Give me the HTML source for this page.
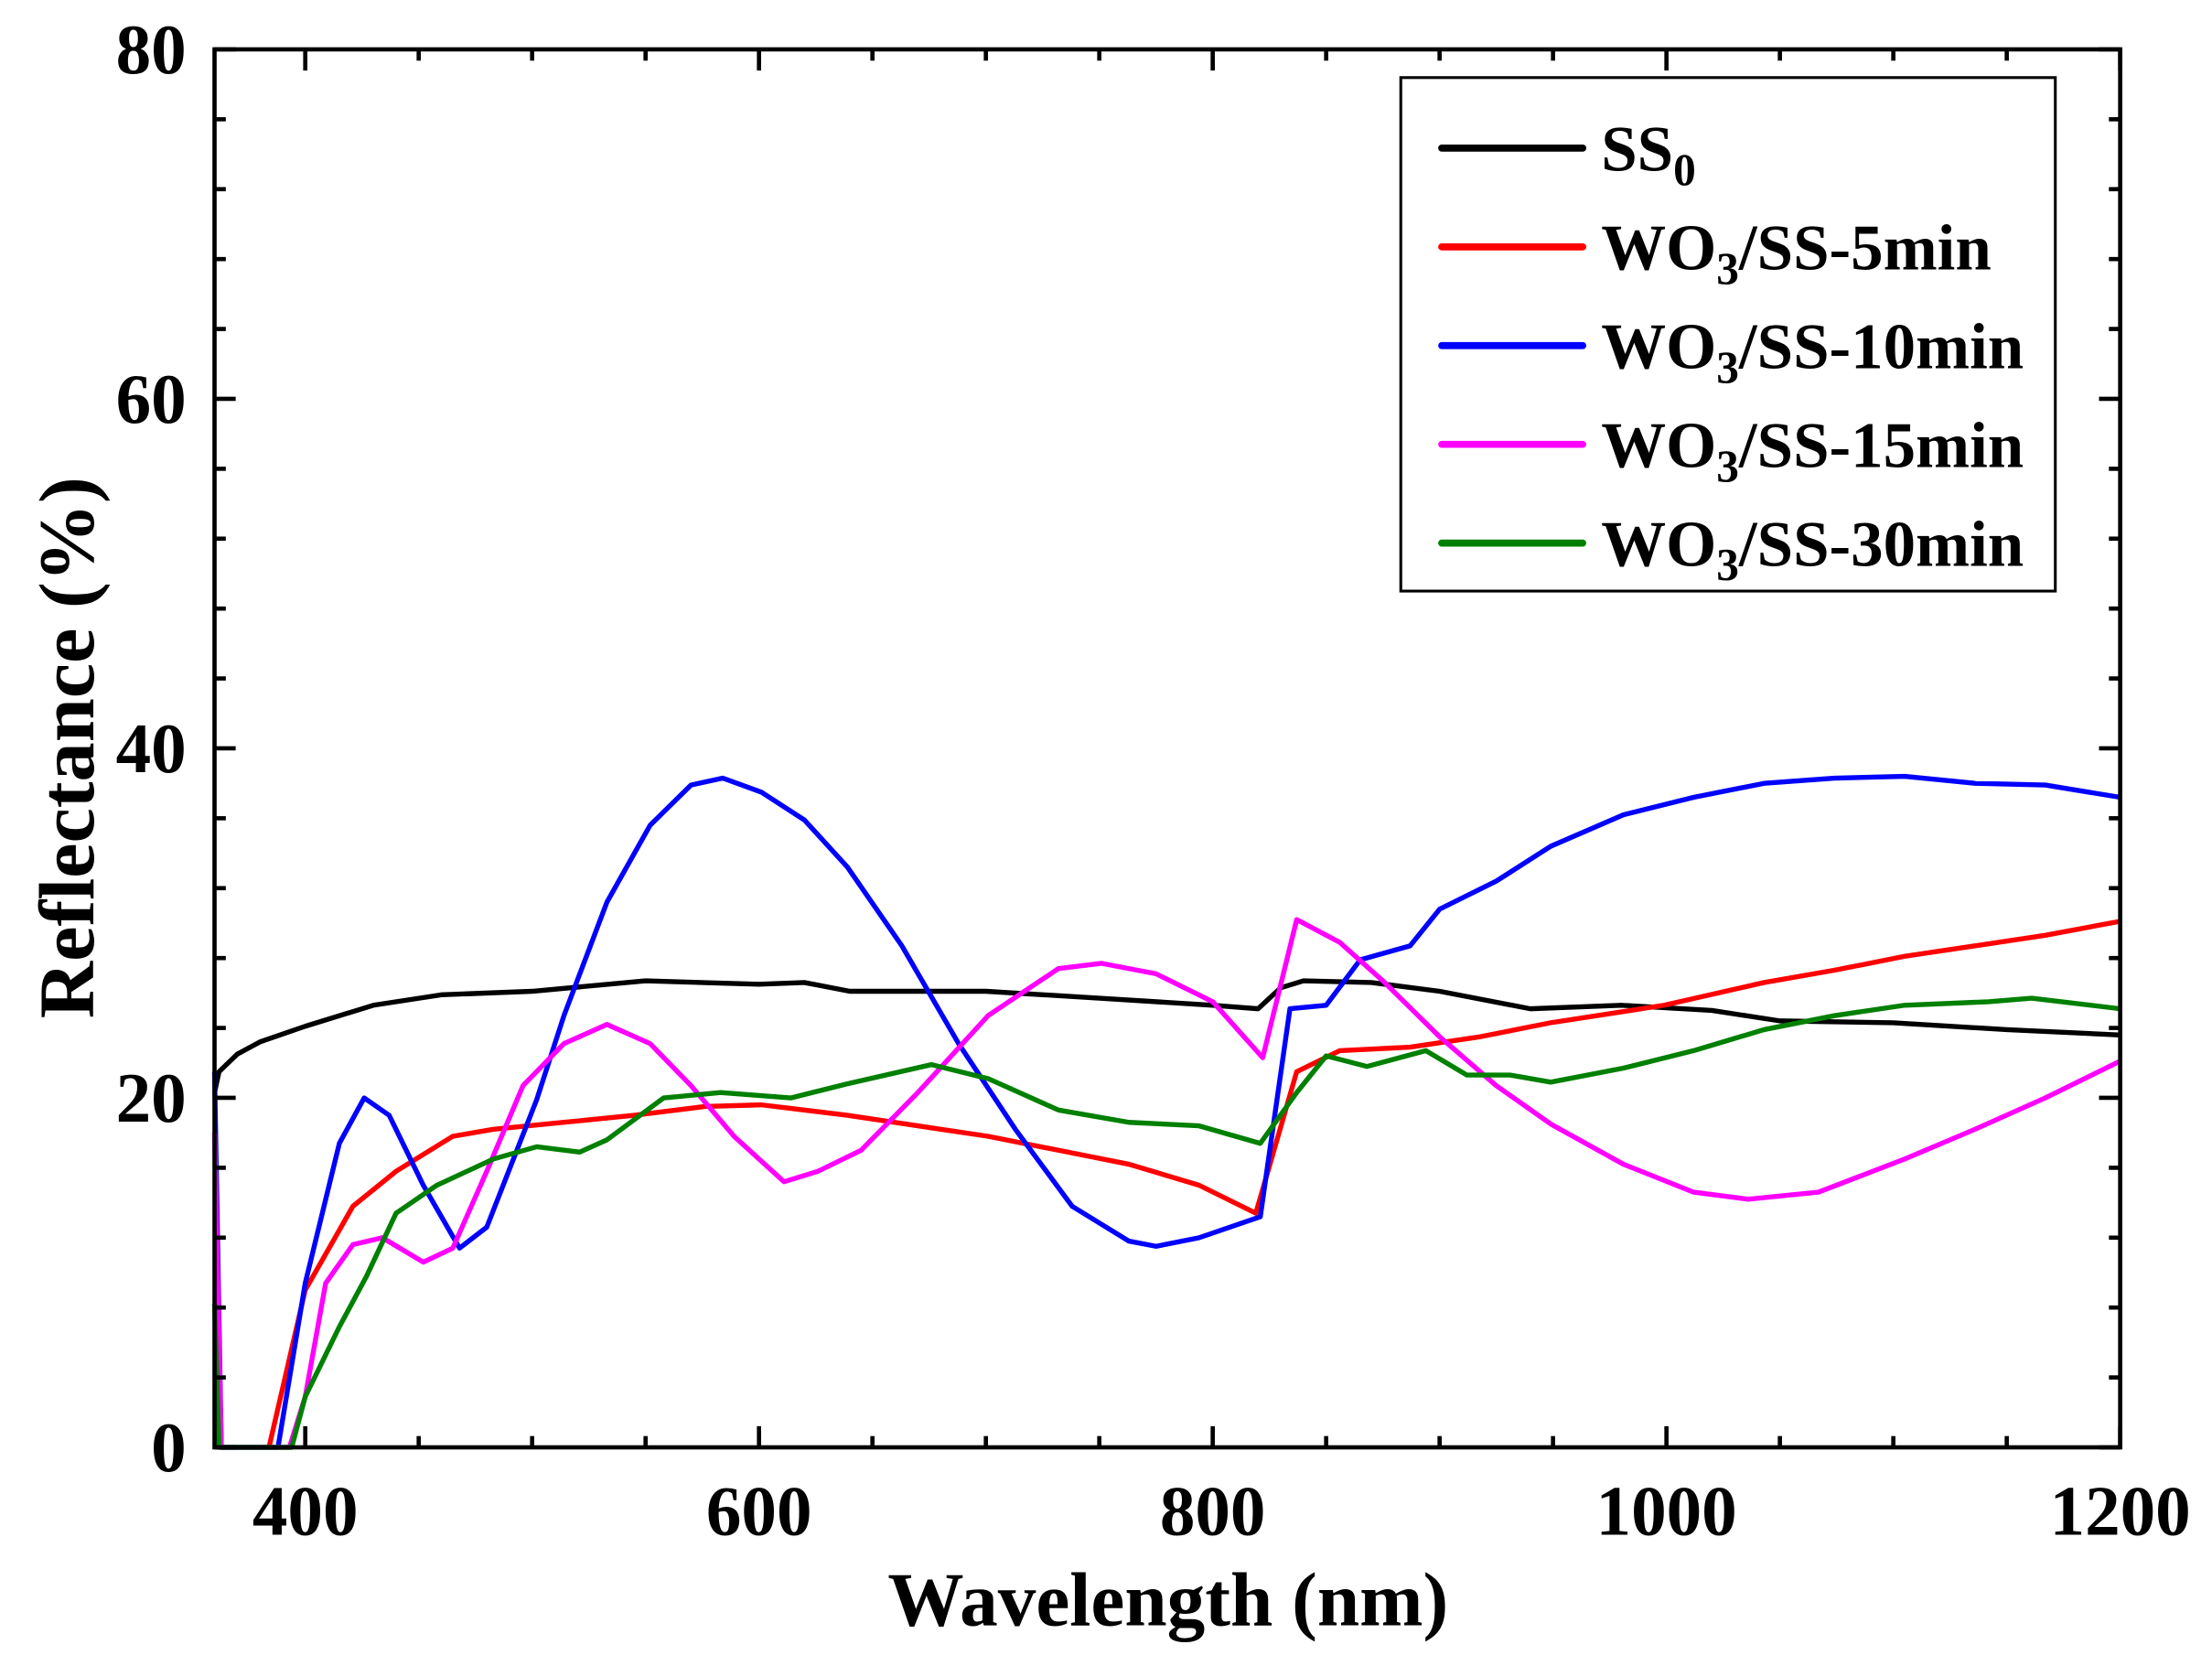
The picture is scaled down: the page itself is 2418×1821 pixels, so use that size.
<!DOCTYPE html>
<html><head><meta charset="utf-8"><style>
html,body{margin:0;padding:0;background:#fff;}
svg{display:block;}
text{font-family:"Liberation Serif",serif;font-weight:bold;fill:#000;}
</style></head><body>
<svg id="chart" width="2418" height="1821" viewBox="0 0 1568 1181" xmlns="http://www.w3.org/2000/svg">
<g id="plot"></g>
<g id="axes"></g>
<text x="828" y="1152" font-size="54" text-anchor="middle">Wavelength (nm)</text>
<text transform="translate(66,530) rotate(-90)" font-size="56" text-anchor="middle">Reflectance (%)</text>
<g>
<rect x="993" y="55" width="464" height="364" fill="#fff" stroke="#000" stroke-width="2"/>
<g><line x1="1022" y1="105" x2="1122" y2="105" stroke="#000" stroke-width="5" stroke-linecap="round"/><text x="1135" y="121" font-size="46">SS<tspan font-size="32" dy="10">0</tspan></text></g>
<g><line x1="1022" y1="175" x2="1122" y2="175" stroke="#f00" stroke-width="5" stroke-linecap="round"/><text x="1135" y="191" font-size="46">WO<tspan font-size="32" dy="10">3</tspan><tspan dy="-10">/SS-5min</tspan></text></g>
<g><line x1="1022" y1="245" x2="1122" y2="245" stroke="#00f" stroke-width="5" stroke-linecap="round"/><text x="1135" y="261" font-size="46">WO<tspan font-size="32" dy="10">3</tspan><tspan dy="-10">/SS-10min</tspan></text></g>
<g><line x1="1022" y1="315" x2="1122" y2="315" stroke="#f0f" stroke-width="5" stroke-linecap="round"/><text x="1135" y="331" font-size="46">WO<tspan font-size="32" dy="10">3</tspan><tspan dy="-10">/SS-15min</tspan></text></g>
<g><line x1="1022" y1="385" x2="1122" y2="385" stroke="#008000" stroke-width="5" stroke-linecap="round"/><text x="1135" y="401" font-size="46">WO<tspan font-size="32" dy="10">3</tspan><tspan dy="-10">/SS-30min</tspan></text></g>
</g>
</svg>
<script>
const xTicks=[400,600,800,1000,1200];
const yTicks=[0,20,40,60,80];
const ss0W=[360,362,370,380,400,430,460,500,550,600,620,640,700,750,800,820,830,840,870,900,940,980,1020,1050,1100,1150,1200];
const ss0V=[20.3,21.5,22.5,23.2,24.1,25.3,25.9,26.1,26.7,26.5,26.6,26.1,26.1,25.7,25.3,25.1,26.3,26.7,26.6,26.1,25.1,25.3,25,24.4,24.3,23.9,23.6];
const redW=[384,400,421,440,465,483,514,545,576,601,639,670,701,732,763,794,819,837,856,887,918,949,999,1043,1074,1105,1136,1167,1200];
const redV=[0,9,13.8,15.8,17.8,18.2,18.6,19,19.5,19.6,19,18.4,17.8,17,16.2,15,13.4,21.5,22.7,22.9,23.5,24.3,25.3,26.6,27.3,28.1,28.7,29.3,30.1];
const blueW=[360,363,388,400,415,426,437,452,468,480,502,514,533,552,570,584,601,620,639,663,688,713,738,763,775,794,821,834,850,865,887,900,925,949,981,1012,1043,1074,1105,1136,1167,1200];
const blueV=[21.5,0,0,9.4,17.4,20,19,15,11.4,12.6,19.9,24.7,31.2,35.6,37.9,38.3,37.5,35.9,33.2,28.7,23.1,18.2,13.8,11.8,11.5,12,13.2,25.1,25.3,27.9,28.7,30.8,32.4,34.4,36.2,37.2,38,38.3,38.4,38,37.9,37.2];
const magW=[360,363,393,400,409,421,434,452,465,480,496,514,533,552,570,589,611,626,645,670,701,732,751,775,800,822,837,856,875,900,925,949,981,1012,1036,1067,1105,1136,1167,1200];
const magV=[18,0,0,2.9,9.4,11.6,12,10.6,11.4,15.8,20.7,23.1,24.2,23.1,20.7,17.8,15.2,15.8,17,20.3,24.7,27.4,27.7,27.1,25.5,22.3,30.2,28.9,26.7,23.5,20.7,18.5,16.2,14.6,14.2,14.6,16.5,18.2,20,22.1];
const grnW=[360,362,394,400,415,427,440,458,483,502,521,533,558,583,614,639,676,701,732,763,794,821,837,850,868,894,912,931,949,981,1012,1043,1074,1105,1142,1161,1200];
const grnV=[8.2,0,0,2.9,6.9,9.8,13.4,15,16.5,17.2,16.9,17.6,20,20.3,20,20.8,21.9,21.1,19.3,18.6,18.4,17.4,20.3,22.4,21.8,22.7,21.3,21.3,20.9,21.7,22.7,23.9,24.7,25.3,25.5,25.7,25.1];

const L=152,R=1503,T=35,B=1026,XMIN=360,XMAX=1200,YMAX=80;
function xs(w){return L+(w-XMIN)/(XMAX-XMIN)*(R-L);}
function ys(v){return B-v/YMAX*(B-T);}
const NS="http://www.w3.org/2000/svg";
const plot=document.getElementById('plot'),axes=document.getElementById('axes');
function mk(tag,attrs,parent){const e=document.createElementNS(NS,tag);for(const k in attrs)e.setAttribute(k,attrs[k]);parent.appendChild(e);return e;}
const series=[[ss0W,ss0V,'#000','ss0-line'],[redW,redV,'#f00','wo3-5min-line'],[blueW,blueV,'#00f','wo3-10min-line'],[magW,magV,'#f0f','wo3-15min-line'],[grnW,grnV,'#008000','wo3-30min-line']];
series.forEach(s=>{
  const d=s[0].map((w,i)=>(i?'L':'M')+xs(w).toFixed(1)+','+ys(s[1][i]).toFixed(1)).join('');
  const p=mk('path',{'d':d,'fill':'none','stroke':s[2],'stroke-width':3.5,'stroke-linejoin':'round'},plot);
  
  
});
const frame=mk('rect',{'x':L,'y':T,'width':R-L,'height':B-T,'fill':'none','stroke':'#000','stroke-width':3},axes);


for(let w=400;w<=1200;w+=50){
  const maj=(w%200===0),len=maj?15:8,x=xs(w);
  mk('line',{'x1':x,'y1':B,'x2':x,'y2':B-len,'stroke':'#000','stroke-width':3},axes);
  mk('line',{'x1':x,'y1':T,'x2':x,'y2':T+len,'stroke':'#000','stroke-width':3},axes);
}
xTicks.forEach(w=>{
  const t=mk('text',{'x':xs(w),'y':1088,'font-size':50,'text-anchor':'middle'},axes);
  t.textContent=w;
  
  
});
for(let v=0;v<=80;v+=4){
  const maj=(v%20===0),len=maj?15:8,y=ys(v);
  mk('line',{'x1':L,'y1':y,'x2':L+len,'y2':y,'stroke':'#000','stroke-width':3},axes);
  mk('line',{'x1':R,'y1':y,'x2':R-len,'y2':y,'stroke':'#000','stroke-width':3},axes);
}
yTicks.forEach(v=>{
  const t=mk('text',{'x':132,'y':ys(v)+17,'font-size':50,'text-anchor':'end'},axes);
  t.textContent=v;
  
  
});
</script>
</body></html>
